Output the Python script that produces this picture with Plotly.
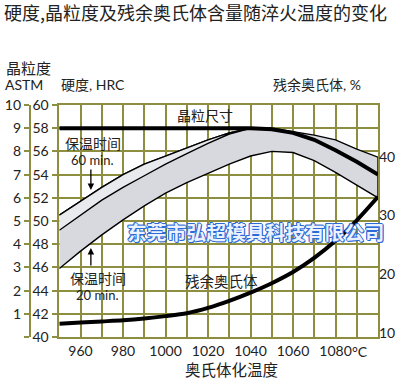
import plotly.graph_objects as go

# ---------------- data ----------------
temps = [950, 960, 970, 980, 990, 1000, 1010, 1020, 1030, 1040, 1050, 1060, 1070, 1080, 1090, 1100]
hrc_upper = [50.5, 51.7, 52.9, 54.0, 54.9, 55.6, 56.3, 57.0, 57.6, 58.0, 58.0, 57.7, 57.4, 57.0, 56.2, 55.5]
temps_mid = [950, 960, 970, 980, 990, 1000, 1010, 1020, 1030, 1040]
hrc_mid = [49.2, 50.5, 51.8, 52.9, 53.9, 54.9, 55.8, 56.7, 57.5, 58.0]
hrc_lower = [45.9, 47.4, 48.8, 50.1, 51.3, 52.4, 53.3, 54.1, 54.9, 55.6, 56.0, 55.9, 55.2, 54.2, 53.1, 52.0]
grain_astm = [9, 9, 9, 9, 9, 9, 9, 9, 9, 9, 8.95, 8.8, 8.5, 8.05, 7.55, 7.0]
retained_pct = [11.6, 11.8, 12.0, 12.2, 12.5, 12.9, 13.4, 14.3, 15.5, 16.9, 18.5, 20.4, 22.8, 25.7, 29.2, 33.2]

x_ticks = [960, 980, 1000, 1020, 1040, 1060, 1080]
x_ticktext = ["960", "980", "1000", "1020", "1040", "1060", "1080"]
hrc_ticks = [40, 42, 44, 46, 48, 50, 52, 54, 56, 58, 60]
astm_ticks = [0, 1, 2, 3, 4, 5, 6, 7, 8, 9, 10]
astm_ticktext = ["", "1", "2", "3", "4", "5", "6", "7", "8", "9", "10"]
pct_ticks = [10, 20, 30, 40]

# ---------------- styling ----------------
W, H = 400, 379
ML, MR, MT, MB = 5, 20, 105, 42
PW = W - ML - MR
PH = H - MT - MB
GRID = "#8e8e40"
LAT = "Lato, 'Noto Sans CJK SC', sans-serif"
CJK = "'Noto Sans CJK SC', sans-serif"


def px(x):
    return (x - ML) / PW


def py(y):
    return (H - MB - y) / PH


fig = go.Figure()

# band (60 min .. 20 min)
fig.add_trace(go.Scatter(
    x=temps + temps[::-1], y=hrc_upper + hrc_lower[::-1],
    fill="toself", fillcolor="#d8d9df", mode="lines",
    line=dict(color="black", width=1.4), yaxis="y", hoverinfo="skip"))
# light upper strip
fig.add_trace(go.Scatter(
    x=temps_mid + temps_mid[::-1], y=hrc_upper[:len(temps_mid)] + hrc_mid[::-1],
    fill="toself", fillcolor="#e9eaee", mode="lines",
    line=dict(color="black", width=1.4), yaxis="y", hoverinfo="skip"))
# grain size
fig.add_trace(go.Scatter(x=temps, y=grain_astm, mode="lines",
                         line=dict(color="black", width=4), yaxis="y2", hoverinfo="skip"))
# retained austenite
fig.add_trace(go.Scatter(x=temps, y=retained_pct, mode="lines",
                         line=dict(color="black", width=4, shape="spline", smoothing=0.8),
                         yaxis="y3", hoverinfo="skip"))

shapes = []
for (x0, y0, x1, y1) in [(168, 106, 243, 125), (58, 132, 126, 169),
                         (58, 270, 143, 306), (143, 270, 252, 289)]:
    shapes.append(dict(type="rect", xref="paper", yref="paper",
                       x0=px(x0), x1=px(x1), y0=py(y1), y1=py(y0),
                       fillcolor="white", line=dict(width=0), layer="between"))

ann = []


def text(t, x, y, size, fam=CJK, xanchor="left", color="#222", **kw):
    ann.append(dict(text=t, x=px(x), y=py(y), xref="paper", yref="paper",
                    showarrow=False, xanchor=xanchor, yanchor="middle",
                    font=dict(family=fam, size=size, color=color, **kw)))


text("硬度,晶粒度及残余奥氏体含量随淬火温度的变化", -1, 12, 18)
text("晶粒度", 1, 68, 15)
text("ASTM", 0, 84, 14, fam=LAT)
text("硬度, HRC", 57, 84, 14, fam=LAT)
text("残余奥氏体, %", 272, 84, 14, fam=LAT)
text("晶粒尺寸", 174, 115, 14)
text("保温时间", 61, 143, 14)
text("60 min.", 67, 160, 13, fam=LAT)
text("保温时间", 66, 278, 14)
text("20 min.", 72, 295, 13, fam=LAT)
text("残余奥氏体", 182, 280, 14.5)
text("奥氏体化温度", 232, 369, 15.5, xanchor="center")
text("°C", 352, 351, 14, fam=LAT)
text("东莞市弘超模具科技有限公司", 256, 231, 19.8, xanchor="center", color="#eaf1ff",
     weight="bold",
     shadow="1px 0 0 #2e6ad6, -1px 0 0 #2e6ad6, 0 1px 0 #2e6ad6, 0 -1px 0 #2e6ad6, 1px 1px 0 #2e6ad6, -1px -1px 0 #2e6ad6")

# arrows
ann.append(dict(x=px(89), y=py(190), xref="paper", yref="paper", text="", showarrow=True,
                ax=0, ay=-22, arrowhead=2, arrowsize=1, arrowwidth=1.3, arrowcolor="black"))
ann.append(dict(x=px(89), y=py(248), xref="paper", yref="paper", text="", showarrow=True,
                ax=0, ay=19, arrowhead=2, arrowsize=1, arrowwidth=1.3, arrowcolor="black"))

fig.update_layout(
    width=W, height=H, margin=dict(l=ML, r=MR, t=MT, b=MB),
    paper_bgcolor="white", plot_bgcolor="white", showlegend=False,
    shapes=shapes, annotations=ann,
    xaxis=dict(domain=[px(57), 1], range=[950, 1100], tickmode="array",
               tickvals=x_ticks, ticktext=x_ticktext, ticks="",
               showgrid=True, gridcolor=GRID, gridwidth=1.6,
               minor=dict(tick0=950, dtick=10, showgrid=True, gridcolor=GRID, gridwidth=1.6),
               showline=True, mirror=True, linecolor=GRID, linewidth=1.6, zeroline=False,
               tickfont=dict(family=LAT, size=14, color="#222")),
    yaxis=dict(range=[40, 60], tickmode="array", tickvals=hrc_ticks, anchor="x",
               showgrid=True, gridcolor=GRID, gridwidth=1.6, zeroline=False,
               ticks="outside", ticklen=6, tickcolor=GRID, tickwidth=1.5,
               showline=True, mirror=True, linecolor=GRID, linewidth=1.6,
               tickfont=dict(family=LAT, size=14, color="#222")),
    yaxis2=dict(range=[0, 10], tickmode="array", tickvals=astm_ticks, ticktext=astm_ticktext,
                overlaying="y", anchor="free", position=px(27), side="left",
                showgrid=False, zeroline=False, ticks="outside", ticklen=5,
                tickcolor=GRID, tickwidth=1.5, showline=True, linecolor=GRID, linewidth=1.6,
                tickfont=dict(family=LAT, size=14, color="#222")),
    yaxis3=dict(range=[9.35, 48.81], tickmode="array", tickvals=pct_ticks,
                overlaying="y", anchor="x", side="right", showgrid=False, zeroline=False,
                ticks="", showline=False,
                tickfont=dict(family=LAT, size=14, color="#222")),
)

fig.write_html("out.html", config={"displayModeBar": False},
               post_script="document.body.style.margin='0';")
